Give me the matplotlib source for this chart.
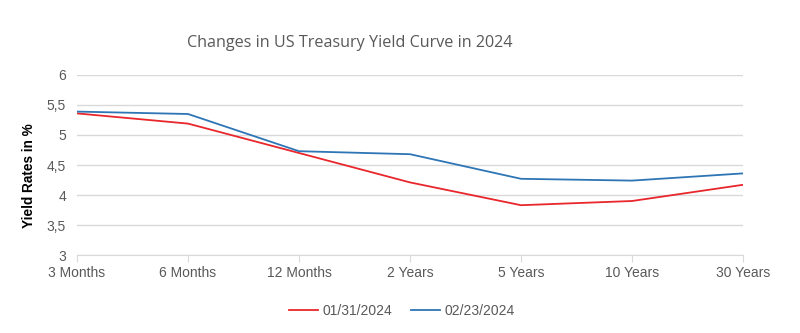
import matplotlib
matplotlib.use("Agg")
import matplotlib.pyplot as plt
from matplotlib.ticker import FuncFormatter

maturities = ["3 Months", "6 Months", "12 Months", "2 Years", "5 Years", "10 Years", "30 Years"]
yield_jan31 = [5.36, 5.19, 4.70, 4.21, 3.83, 3.90, 4.17]
yield_feb23 = [5.39, 5.35, 4.73, 4.68, 4.27, 4.24, 4.36]
series_labels = ["01/31/2024", "02/23/2024"]
y_ticks = [3, 3.5, 4, 4.5, 5, 5.5, 6]

plt.rcParams["font.family"] = ["Liberation Sans", "DejaVu Sans"]

fig = plt.figure(figsize=(8, 3.33), dpi=100)
ax = fig.add_axes([0.09625, 0.2342, 0.8325, 0.5406])

x = range(len(maturities))
ax.plot(x, yield_jan31, color="#e8262b", lw=1.3, label=series_labels[0])
ax.plot(x, yield_feb23, color="#2e75b6", lw=1.3, label=series_labels[1])

ax.set_xlim(0, len(maturities) - 1)
ax.set_ylim(3, 6)
ax.set_yticks(y_ticks)
ax.yaxis.set_major_formatter(FuncFormatter(lambda v, p: f"{v:g}".replace(".", ",")))
ax.set_xticks(list(x))
ax.set_xticklabels(maturities)

ax.grid(axis="y", color="#d9d9d9", lw=1)
ax.set_axisbelow(True)
for s in ["top", "right", "left"]:
    ax.spines[s].set_visible(False)
ax.spines["bottom"].set_color("#d9d9d9")
ax.tick_params(axis="y", length=0, labelsize=10, labelcolor="#595959", pad=8)
ax.tick_params(axis="x", length=5, color="#d9d9d9", labelsize=10, labelcolor="#595959", pad=3)

ax.set_ylabel("Yield Rates in %", fontsize=9.8, fontweight="bold", color="black")
ax.yaxis.set_label_coords(-0.062, 0.44)

fig.text(0.4375, 0.87, "Changes in US Treasury Yield Curve in 2024",
         ha="center", va="center", fontsize=11.6, color="#595959",
         family=["Open Sans", "DejaVu Sans"])

leg = fig.legend(loc="center", bbox_to_anchor=(0.502, 0.066), ncol=2, frameon=False,
                 fontsize=10, handlelength=2.1, columnspacing=1.35, handletextpad=0.3)
for t in leg.get_texts():
    t.set_color("#595959")

fig.savefig("out.png", dpi=100, facecolor="white")
